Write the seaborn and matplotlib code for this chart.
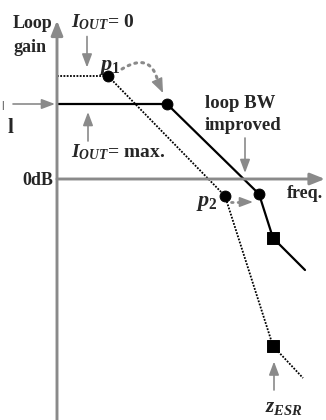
import numpy as np
import pandas as pd
import matplotlib
matplotlib.use("Agg")
import matplotlib.pyplot as plt
import seaborn as sns

# Asymptotic loop-gain magnitude: x in decades from the origin, y in dB
light_freq = [0.0, 1.02, 3.36, 4.32, 4.92]     # I_OUT = 0
light_gain = [41.2, 41.2, -6.8, -66.8, -79.6]
heavy_freq = [0.0, 2.20, 4.04, 4.32, 4.96]     # I_OUT = max.
heavy_gain = [30.0, 30.0, -6.0, -23.6, -36.4]
pole_idx = [1, 2]   # p1, p2 corners on each curve
zero_idx = [3]      # z_ESR corner

sns.set_theme(style="white")
plt.rcParams["font.family"] = ["Liberation Serif", "DejaVu Serif"]
plt.rcParams["font.weight"] = "bold"
plt.rcParams["mathtext.fontset"] = "custom"
plt.rcParams["mathtext.rm"] = "Liberation Serif:bold"
plt.rcParams["mathtext.it"] = "Liberation Serif:italic:bold"
plt.rcParams["mathtext.bf"] = "Liberation Serif:bold"

light = pd.DataFrame({"freq": light_freq, "gain": light_gain})
heavy = pd.DataFrame({"freq": heavy_freq, "gain": heavy_gain})
poles = pd.concat([light.iloc[pole_idx], heavy.iloc[pole_idx]])
zeros = pd.concat([light.iloc[zero_idx], heavy.iloc[zero_idx]])

fig = plt.figure(figsize=(3.26, 4.20), dpi=100)
ax = fig.add_axes([0, 0, 1, 1])
ax.set_xlim(-1.14, 5.38)
ax.set_ylim(-96.4, 71.6)
ax.axis("off")

GRAY = "#8a8a8a"

# axes with arrowheads
axis_kw = dict(arrowstyle="-|>,head_length=0.8,head_width=0.32", color=GRAY,
               lw=2.1, mutation_scale=11, shrinkA=0, shrinkB=0)
ax.annotate("", xy=(0, 63.4), xytext=(0, -97), arrowprops=axis_kw)
ax.annotate("", xy=(5.36, 0), xytext=(0, 0), arrowprops=axis_kw)

# asymptotic curves
sns.lineplot(data=light, x="freq", y="gain", ax=ax, sort=False, estimator=None,
             color="black", lw=1.3, linestyle=(0, (1, 0.8)))
sns.lineplot(data=heavy, x="freq", y="gain", ax=ax, sort=False, estimator=None,
             color="black", lw=1.6)
sns.scatterplot(data=poles, x="freq", y="gain", ax=ax, marker="o", s=62,
                color="black", edgecolor="black", zorder=5)
sns.scatterplot(data=zeros, x="freq", y="gain", ax=ax, marker="s", s=72,
                color="black", edgecolor="black", zorder=5)

# text labels
fs = 13
ax.text(-0.88, 60.6, "Loop", fontsize=fs, ha="left", va="baseline")
ax.text(-0.88, 51.0, "gain", fontsize=fs, ha="left", va="baseline")
ax.text(-0.07, -2.4, "0dB", fontsize=fs, ha="right", va="baseline")
ax.text(4.60, -7.6, "freq.", fontsize=fs, ha="left", va="baseline")
ax.text(2.96, 28.4, "loop BW", fontsize=fs + 0.5, ha="left", va="baseline")
ax.text(2.96, 19.6, "improved", fontsize=fs + 0.5, ha="left", va="baseline")
ax.text(0.28, 60.8, r"$I_{OUT}$= 0", fontsize=fs + 1, ha="left", va="baseline")
ax.text(0.28, 8.8, r"$I_{OUT}$= max.", fontsize=fs + 1, ha="left", va="baseline")
ax.text(0.84, 43.6, r"$p_1$", fontsize=fs + 3, ha="left", va="baseline")
ax.text(2.78, -10.6, r"$p_2$", fontsize=fs + 3, ha="left", va="baseline")
ax.text(4.16, -93.2, r"$z_{ESR}$", fontsize=fs + 2, ha="left", va="baseline")
ax.text(-1.12, 28.2, "|", fontsize=8, ha="left", va="baseline")
ax.text(-0.98, 18.4, "l", fontsize=fs + 2, ha="left", va="baseline")

# pointer arrows
ptr = dict(arrowstyle="-|>,head_length=0.8,head_width=0.3", color=GRAY,
           lw=1.2, mutation_scale=10, shrinkA=0, shrinkB=0)
ax.annotate("", xy=(0.60, 44.6), xytext=(0.60, 57.0), arrowprops=ptr)
ax.annotate("", xy=(0.62, 26.8), xytext=(0.62, 15.2), arrowprops=ptr)
ax.annotate("", xy=(-0.04, 30.0), xytext=(-0.88, 30.0), arrowprops=ptr)
ax.annotate("", xy=(3.76, 2.4), xytext=(3.76, 16.4), arrowprops=ptr)
ax.annotate("", xy=(4.34, -73.0), xytext=(4.34, -84.4), arrowprops=ptr)

# dotted shift arrows (p1 and p2 moving to higher frequency)
t = np.linspace(0, 1, 40)
p0, c, p2 = np.array([1.30, 44.0]), np.array([1.86, 50.8]), np.array([2.01, 39.6])
arc = (1 - t)[:, None] ** 2 * p0 + 2 * ((1 - t) * t)[:, None] * c + (t ** 2)[:, None] * p2
ax.plot(arc[:, 0], arc[:, 1], color=GRAY, lw=2.2, linestyle=(0, (0.6, 1.7)),
        dash_capstyle="round")
head = dict(arrowstyle="-|>,head_length=0.75,head_width=0.3", color=GRAY,
            lw=1.0, mutation_scale=12, shrinkA=0, shrinkB=0)
ax.annotate("", xy=(2.12, 34.4), xytext=(2.02, 38.8), arrowprops=head)
ax.plot([3.47, 3.78], [-9.2, -9.2], color=GRAY, lw=2.0, linestyle=(0, (0.6, 1.8)),
        dash_capstyle="round")
ax.annotate("", xy=(3.92, -9.2), xytext=(3.78, -9.2), arrowprops=ptr)

fig.savefig("out.png", dpi=100)
